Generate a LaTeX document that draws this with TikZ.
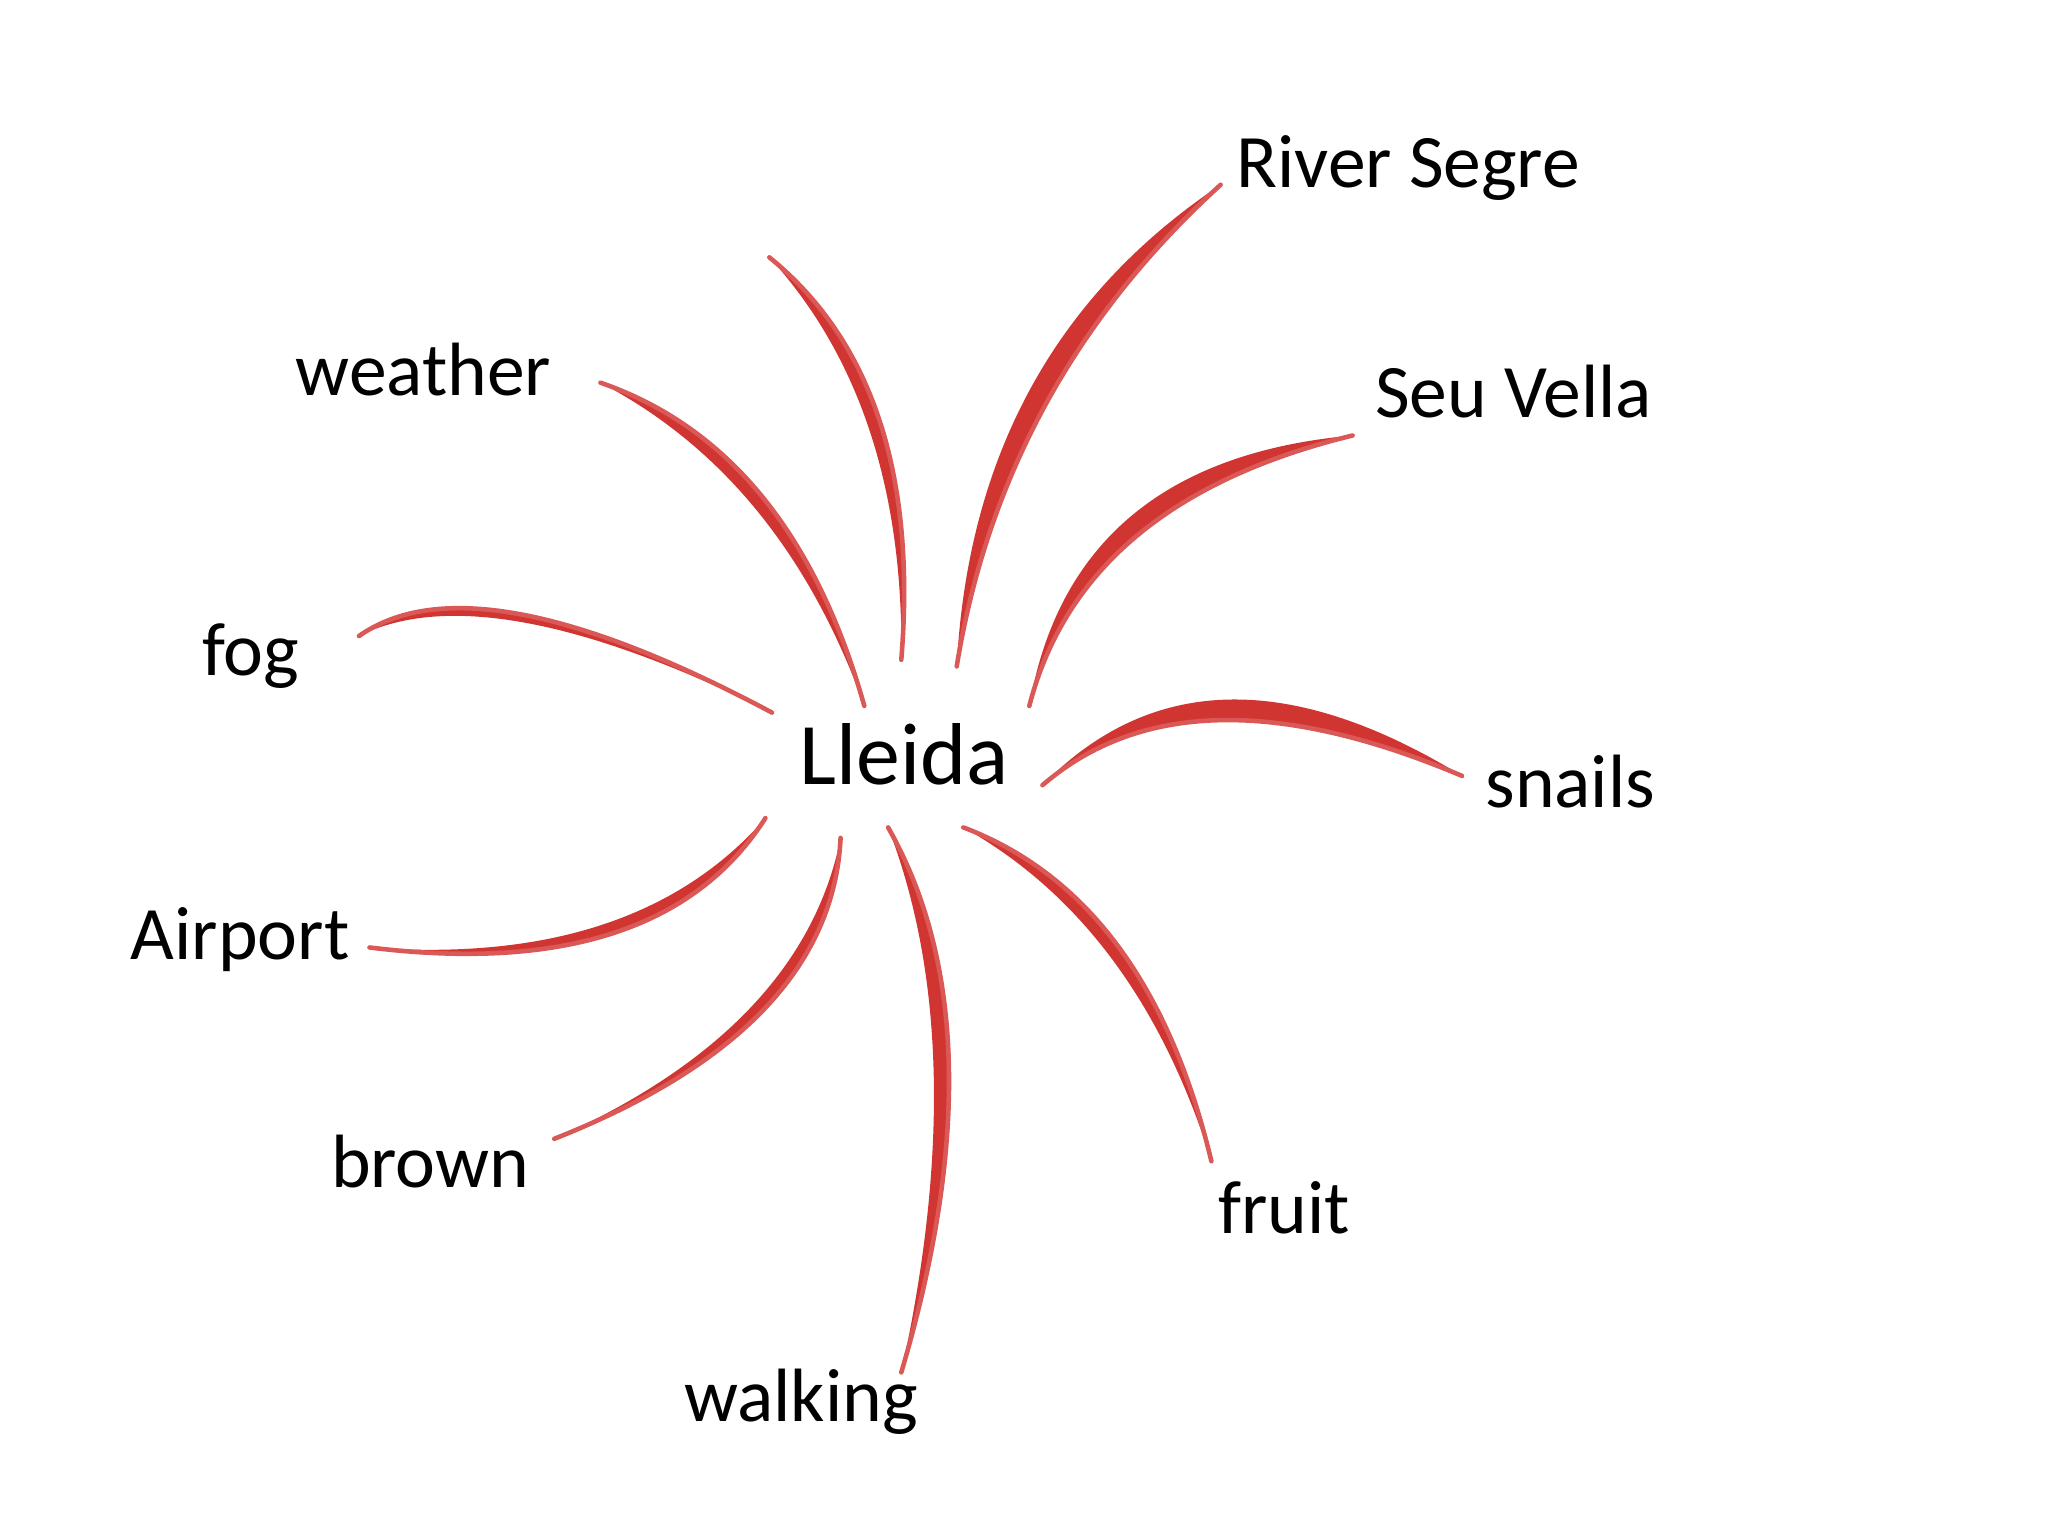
\documentclass[tikz,border=0pt]{standalone}
\usepackage{fontspec}
\setmainfont{Carlito}
\usetikzlibrary{calc}
\definecolor{strokered}{RGB}{205,32,28}
\tikzset{
  lbl/.style={inner sep=0pt,font=\fontsize{21.5}{26}\selectfont},
  ctr/.style={inner sep=0pt,font=\fontsize{25}{30}\selectfont},
}
\newcommand{\brush}[3]{%
  \fill[strokered,opacity=0.9] (#1) .. controls ($(#1)!0.667!(#2)$) and ($(#3)!0.667!(#2)$) .. (#3)
     .. controls ($(#3)!0.667!($(#2)!0.15!90:(#1)$)$) and ($(#1)!0.667!($(#2)!0.15!90:(#1)$)$) .. (#1);
  \draw[strokered!75!white,line width=1.3pt,line cap=round] (#1) .. controls ($(#1)!0.667!(#2)$) and ($(#3)!0.667!(#2)$) .. (#3);
}
\begin{document}
\begin{tikzpicture}[x=0.0132cm,y=-0.0132cm]
\useasboundingbox[fill=white] (0,0) rectangle (1552,1164);
\node[ctr] (c) at (685,572) {Lleida};
\node[lbl] (river) at (1067,127) {River Segre};
\node[lbl] (seu) at (1147,297) {Seu Vella};
\node[lbl] (weather) at (321,280) {weather};
\node[lbl] (fog) at (190,497) {fog};
\node[lbl] (snails) at (1190,592) {snails};
\node[lbl] (airport) at (182,712) {Airport};
\node[lbl] (brown) at (326,880) {brown};
\node[lbl] (fruit) at (973,915) {fruit};
\node[lbl] (walking) at (607,1062) {walking};
% stroke end points and bend controls
\coordinate (f1) at (272,482); \coordinate (f2) at (585,540); \coordinate (fc) at (360,420);
\coordinate (w1) at (455,290); \coordinate (w2) at (655,535); \coordinate (wc) at (600,340);
\coordinate (t1) at (583,195); \coordinate (t2) at (683,500); \coordinate (tc) at (700,290);
\coordinate (r1) at (925,140); \coordinate (r2) at (725,505); \coordinate (rc) at (760,290);
\coordinate (s1) at (1025,330); \coordinate (s2) at (780,535); \coordinate (sc) at (820,380);
\coordinate (n1) at (1108,588); \coordinate (n2) at (790,595); \coordinate (nc) at (900,500);
\coordinate (u1) at (730,627); \coordinate (u2) at (918,880); \coordinate (uc) at (870,680);
\coordinate (k1) at (673,627); \coordinate (k2) at (683,1040); \coordinate (kc) at (760,780);
\coordinate (b1) at (637,635); \coordinate (b2) at (420,863); \coordinate (bc) at (630,780);
\coordinate (a1) at (580,620); \coordinate (a2) at (280,718); \coordinate (ac) at (500,745);
\brush{f1}{fc}{f2}
\brush{w1}{wc}{w2}
\brush{t1}{tc}{t2}
\brush{r1}{rc}{r2}
\brush{s1}{sc}{s2}
\brush{n1}{nc}{n2}
\brush{u1}{uc}{u2}
\brush{k1}{kc}{k2}
\brush{b1}{bc}{b2}
\brush{a1}{ac}{a2}
\end{tikzpicture}
\end{document}
